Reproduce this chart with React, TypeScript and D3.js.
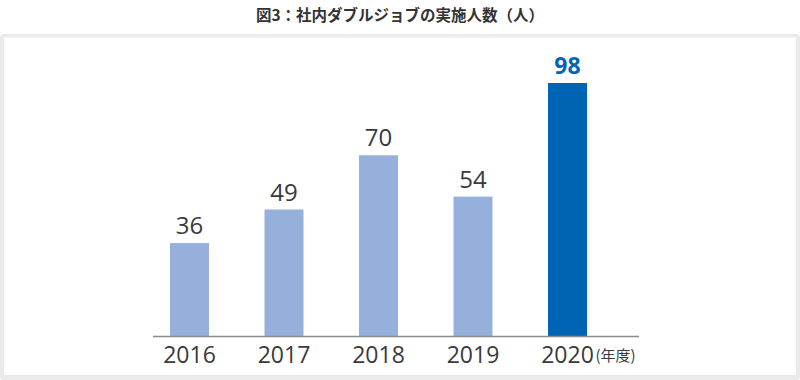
import React from "react";
import * as d3 from "d3";

const title = "図3：社内ダブルジョブの実施人数（人）";
const years = ["2016", "2017", "2018", "2019", "2020"];
const values = [36, 49, 70, 54, 98];
const highlight = [false, false, false, false, true];
const unitLabel = "(年度)";

const W = 800;
const H = 380;

export default function App() {
  const x = d3.scalePoint<string>().domain(years).range([189.5, 567.5]);
  const y = d3.scaleLinear().domain([0, 98]).range([336, 83]);
  const barW = 39;
  const light = "#95b0da";
  const dark = "#0064b4";
  const textCol = "#3a3a3a";
  const numFont = "'Open Sans', 'Noto Sans', sans-serif";

  return (
    <svg
      width={W}
      height={H}
      style={{ position: "absolute", left: 0, top: 0 }}
    >
      <rect x={0} y={0} width={W} height={H} fill="#ffffff" />
      <text
        x={400}
        y={21}
        textAnchor="middle"
        fontFamily="'Noto Sans CJK JP', sans-serif"
        fontSize={15.5}
        fontWeight={700}
        fill="#333333"
      >
        {title}
      </text>
      <rect x={0} y={34} width={800} height={346} fill="#ebebeb" rx={3} />
      <rect x={4} y={37.5} width={792} height={337.5} fill="#ffffff" />
      {years.map((yr, i) => {
        const cx = x(yr) as number;
        const v = values[i];
        const top = y(v);
        return (
          <g key={yr}>
            <rect
              x={cx - barW / 2}
              y={top}
              width={barW}
              height={y(0) - top}
              fill={highlight[i] ? dark : light}
            />
            <text
              x={cx}
              y={top - 9}
              textAnchor="middle"
              fontFamily={numFont}
              fontSize={highlight[i] ? 23 : 24}
              fontWeight={highlight[i] ? 700 : 400}
              fill={highlight[i] ? dark : textCol}
            >
              {v}
            </text>
            <text
              x={cx}
              y={363}
              textAnchor="middle"
              fontFamily={numFont}
              fontSize={23}
              fill={textCol}
            >
              {yr}
            </text>
          </g>
        );
      })}
      <text
        x={(x(years[years.length - 1]) as number) + 28}
        y={361}
        fontFamily="'Noto Sans CJK JP', sans-serif"
        fontSize={15}
        fill={textCol}
      >
        {unitLabel}
      </text>
      <line x1={153} x2={639} y1={336.5} y2={336.5} stroke="#8a8a8a" strokeWidth={1.5} />
    </svg>
  );
}
